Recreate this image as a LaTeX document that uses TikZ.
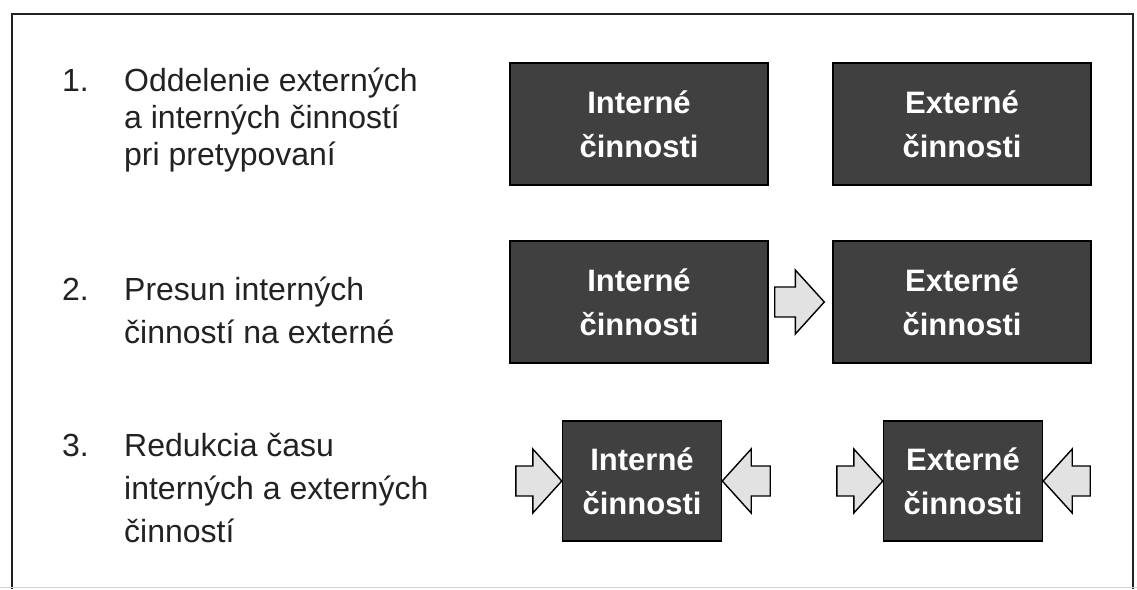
\documentclass[tikz,border=0pt]{standalone}
\usepackage{fontspec}
\setmainfont{Liberation Sans}
\usetikzlibrary{calc}

\definecolor{boxfill}{HTML}{404040}
\definecolor{arrowfill}{HTML}{E2E2E2}
\definecolor{ink}{HTML}{222222}

\tikzset{
  frame/.style={line width=1.6pt, draw=ink},
  actbox/.style={draw=black, line width=1.4pt, fill=boxfill, text=white,
    align=center, inner sep=0pt,
    font=\bfseries\fontsize{31}{44}\selectfont},
  wide/.style={minimum width=258pt, minimum height=122pt},
  narrow/.style={minimum width=159pt, minimum height=120pt},
  % multi-line text: the base anchor sits on the last line
  steptext/.style={anchor=base west, align=left, inner sep=0pt, text=ink,
    font=\fontsize{32}{43}\selectfont},
  tight/.style={font=\fontsize{32}{37}\selectfont},
  blockarrow/.style={draw=black, line width=1.4pt, fill=arrowfill, line join=miter},
}

% block arrow from a tail point to a tip point (horizontal)
\newcommand{\blockarrow}[2]{%
  \draw[blockarrow] let \p1=(#1), \p2=(#2), \n1={sign(\x2-\x1)} in
    (\x1,\y2+15pt) -- ({\x2-\n1*29pt},\y2+15pt) -- ({\x2-\n1*29pt},\y2+32pt)
    -- (\x2,\y2) -- ({\x2-\n1*29pt},\y2-32pt) -- ({\x2-\n1*29pt},\y2-15pt)
    -- (\x1,\y2-15pt) -- cycle;}

\begin{document}
\begin{tikzpicture}[x=1pt, y=-1pt]
\useasboundingbox (0,0) rectangle (1137,589);

% outer frame, open at the bottom edge
\coordinate (fbl) at (12,589);
\coordinate (ftl) at (12,14);
\coordinate (ftr) at (1133,14);
\coordinate (fbr) at (1133,589);
\draw[frame] (fbl) -- (ftl) -- (ftr) -- (fbr);
\draw[gray!35, line width=1pt] (0,587) -- (1137,587);

% step descriptions
\node[steptext] (n1) at (62,91) {1.};
\node[steptext, tight] (t1) at (124,165) {Oddelenie externých\\a interných činností\\pri pretypovaní};
\node[steptext] (n2) at (62,300) {2.};
\node[steptext] (t2) at (124,343) {Presun interných\\činností na externé};
\node[steptext] (n3) at (62,456) {3.};
\node[steptext] (t3) at (124,542) {Redukcia času\\interných a externých\\činností};

% row 1: separation
\node[actbox, wide] (i1) at (639,124) {Interné\\činnosti};
\node[actbox, wide] (e1) at (962,124) {Externé\\činnosti};

% row 2: conversion
\node[actbox, wide] (i2) at (639,302) {Interné\\činnosti};
\node[actbox, wide] (e2) at (962,302) {Externé\\činnosti};
\blockarrow{$(i2.east)+(6,0)$}{$(e2.west)+(-8,0)$}

% row 3: reduction
\node[actbox, narrow] (i3) at (642,481) {Interné\\činnosti};
\node[actbox, narrow] (e3) at (963,481) {Externé\\činnosti};
\blockarrow{$(i3.west)+(-46,0)$}{i3.west}
\blockarrow{$(i3.east)+(48,0)$}{i3.east}
\blockarrow{$(e3.west)+(-46,0)$}{e3.west}
\blockarrow{$(e3.east)+(47,0)$}{e3.east}
\end{tikzpicture}
\end{document}
